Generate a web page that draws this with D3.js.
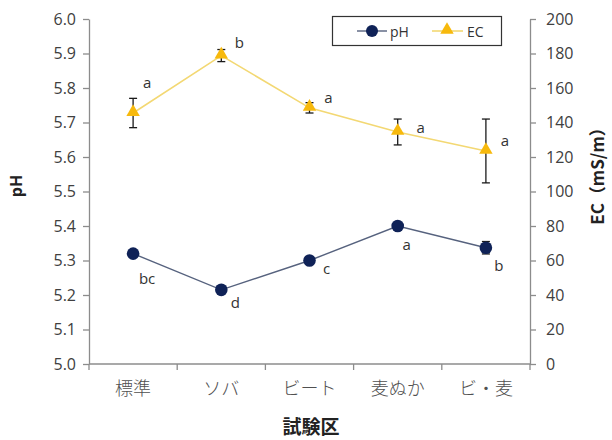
<!DOCTYPE html>
<html>
<head>
<meta charset="utf-8">
<script src="https://cdn.jsdelivr.net/npm/d3@7"></script>
<style>
  html, body { margin: 0; padding: 0; background: #fff; }
  svg { display: block; }
</style>
</head>
<body>
<svg id="chart" width="612" height="440"></svg>
<script>
// Treatments and measured soil values
const categories = ["標準", "ソバ", "ビート", "麦ぬか", "ビ・麦"];
const phValues = [5.32, 5.215, 5.30, 5.40, 5.337];
const phErrors = [0.005, 0.005, 0.005, 0.006, 0.018];
const phLetters = ["bc", "d", "c", "a", "b"];
const ecValues = [145.5, 178.8, 148.5, 134.5, 123.5];
const ecErrors = [8.5, 3.5, 3, 7.5, 18.5];
const ecLetters = ["a", "b", "a", "a", "a"];
const phTicks = [5.0, 5.1, 5.2, 5.3, 5.4, 5.5, 5.6, 5.7, 5.8, 5.9, 6.0];
const ecTicks = [0, 20, 40, 60, 80, 100, 120, 140, 160, 180, 200];

const svg = d3.select("#chart");
const plotLeft = 89, plotRight = 530, plotTop = 19, plotBottom = 364;
const axisColor = "#8c8c8c";
const numFont = "'Open Sans', 'Noto Sans', sans-serif";
const jpFont = "'Noto Sans CJK JP', sans-serif";

const x = d3.scaleBand().domain(categories).range([plotLeft, plotRight]).padding(0);
const cx = c => x(c) + x.bandwidth() / 2;
const yPh = d3.scaleLinear().domain([5.0, 6.0]).range([plotBottom, plotTop]);
const yEc = d3.scaleLinear().domain([0, 200]).range([plotBottom, plotTop]);

// Axes
function styleAxis(g) {
  g.selectAll(".domain").attr("stroke", axisColor).attr("stroke-width", 1.3);
  g.selectAll(".tick line").attr("stroke", axisColor).attr("stroke-width", 1.3);
  g.selectAll(".tick text").attr("fill", "#404040")
    .style("font-family", numFont).style("font-size", "16px");
}

svg.append("g").attr("transform", `translate(${plotLeft},0)`)
  .call(d3.axisLeft(yPh).tickValues(phTicks).tickFormat(d3.format(".1f"))
    .tickSize(6).tickSizeOuter(0).tickPadding(7))
  .call(styleAxis);

svg.append("g").attr("transform", `translate(${plotRight},0)`)
  .call(d3.axisRight(yEc).tickValues(ecTicks).tickFormat(d3.format("d"))
    .tickSize(6).tickSizeOuter(0).tickPadding(10))
  .call(styleAxis);

// Category axis: ticks sit on the band boundaries
const xAxis = svg.append("g").attr("transform", `translate(0,${plotBottom})`);
xAxis.append("line").attr("x1", plotLeft).attr("x2", plotRight)
  .attr("stroke", axisColor).attr("stroke-width", 1.3);
const bounds = categories.map(c => x(c)).concat([x(categories[categories.length - 1]) + x.bandwidth()]);
xAxis.selectAll("line.tk").data(bounds).join("line").attr("class", "tk")
  .attr("x1", d => d).attr("x2", d => d).attr("y1", 0).attr("y2", 6)
  .attr("stroke", axisColor).attr("stroke-width", 1.3);
xAxis.selectAll("text").data(categories).join("text")
  .attr("x", d => cx(d)).attr("y", 31)
  .attr("text-anchor", "middle").attr("fill", "#505050")
  .style("font-family", jpFont).style("font-size", "18px").style("font-weight", 300)
  .text(d => d);

// Axis titles
svg.append("text").attr("x", 311).attr("y", 434).attr("text-anchor", "middle")
  .style("font-family", jpFont).style("font-size", "19px").style("font-weight", "bold")
  .attr("fill", "#222").text("試験区");
svg.append("text").attr("transform", "translate(22,186) rotate(-90)").attr("text-anchor", "middle")
  .style("font-family", numFont).style("font-size", "16px").style("font-weight", "bold")
  .attr("fill", "#222").text("pH");
svg.append("text").attr("transform", "translate(604,172) rotate(-90)").attr("text-anchor", "middle")
  .style("font-family", jpFont).style("font-size", "17px").style("font-weight", "bold")
  .attr("fill", "#222").text("EC（mS/m）");

const phColor = "#0f2257", phLine = "#56627e";
const ecColor = "#f7b90c", ecLine = "#f3d873";
const tri = d3.symbol().type(d3.symbolTriangle).size(78);

// Error bars
function errorBars(vals, errs, y) {
  const g = svg.append("g").attr("stroke", "#1a1a1a").attr("stroke-width", 1.3);
  categories.forEach((c, i) => {
    const y1 = y(vals[i] + errs[i]), y2 = y(vals[i] - errs[i]), xc = cx(c);
    g.append("line").attr("x1", xc).attr("x2", xc).attr("y1", y1).attr("y2", y2);
    g.append("line").attr("x1", xc - 4).attr("x2", xc + 4).attr("y1", y1).attr("y2", y1);
    g.append("line").attr("x1", xc - 4).attr("x2", xc + 4).attr("y1", y2).attr("y2", y2);
  });
}

// EC series
const ecData = categories.map((c, i) => ({ c, v: ecValues[i] }));
svg.append("path").datum(ecData)
  .attr("d", d3.line().x(d => cx(d.c)).y(d => yEc(d.v)))
  .attr("fill", "none").attr("stroke", ecLine).attr("stroke-width", 1.6);
errorBars(ecValues, ecErrors, yEc);
svg.selectAll("path.ec").data(ecData).join("path").attr("class", "ec")
  .attr("d", tri).attr("transform", d => `translate(${cx(d.c)},${yEc(d.v) - 1})`)
  .attr("fill", ecColor);

// pH series
const phData = categories.map((c, i) => ({ c, v: phValues[i] }));
svg.append("path").datum(phData)
  .attr("d", d3.line().x(d => cx(d.c)).y(d => yPh(d.v)))
  .attr("fill", "none").attr("stroke", phLine).attr("stroke-width", 1.4);
errorBars(phValues, phErrors, yPh);
svg.selectAll("circle.ph").data(phData).join("circle").attr("class", "ph")
  .attr("cx", d => cx(d.c)).attr("cy", d => yPh(d.v)).attr("r", 6.3)
  .attr("fill", phColor);

// Significance letters, nudged off each marker
const ecLabelShift = [[14, -30], [18, -13], [19, -10], [23, -4], [19, -10]];
const phLabelShift = [[14, 30], [14, 18], [17, 13], [9, 24], [13, 23]];
const letterStyle = sel => sel.attr("text-anchor", "middle").attr("fill", "#333")
  .style("font-family", numFont).style("font-size", "15px");
svg.selectAll("text.ecl").data(ecData).join("text").attr("class", "ecl")
  .attr("x", (d, i) => cx(d.c) + ecLabelShift[i][0])
  .attr("y", (d, i) => yEc(d.v) + ecLabelShift[i][1] + 5)
  .call(letterStyle).text((d, i) => ecLetters[i]);
svg.selectAll("text.phl").data(phData).join("text").attr("class", "phl")
  .attr("x", (d, i) => cx(d.c) + phLabelShift[i][0])
  .attr("y", (d, i) => yPh(d.v) + phLabelShift[i][1])
  .call(letterStyle).text((d, i) => phLetters[i]);

// Legend
const lg = svg.append("g");
lg.append("rect").attr("x", 332.5).attr("y", 16.5).attr("width", 169).attr("height", 29)
  .attr("fill", "#fff").attr("stroke", "#333").attr("stroke-width", 1.2);
lg.append("line").attr("x1", 357).attr("x2", 387).attr("y1", 31).attr("y2", 31)
  .attr("stroke", phLine).attr("stroke-width", 1.4);
lg.append("circle").attr("cx", 372).attr("cy", 31).attr("r", 6).attr("fill", phColor);
lg.append("text").attr("x", 390).attr("y", 36.5).call(sel => sel.attr("fill", "#333")
  .style("font-family", numFont).style("font-size", "14px")).text("pH");
lg.append("line").attr("x1", 432).attr("x2", 463).attr("y1", 31).attr("y2", 31)
  .attr("stroke", ecLine).attr("stroke-width", 1.6);
lg.append("path").attr("d", tri).attr("transform", "translate(447,30)").attr("fill", ecColor);
lg.append("text").attr("x", 467).attr("y", 36.5).call(sel => sel.attr("fill", "#333")
  .style("font-family", numFont).style("font-size", "14px")).text("EC");
</script>
</body>
</html>
